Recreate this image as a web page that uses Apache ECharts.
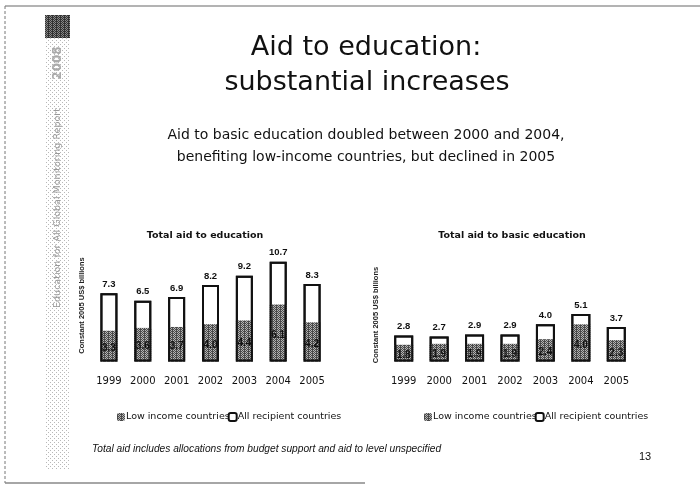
<!DOCTYPE html>
<html>
<head>
<meta charset="utf-8">
<style>
  html, body { margin: 0; padding: 0; background: #fff; }
  #chart { width: 700px; height: 491px; }
</style>
<script src="https://cdn.jsdelivr.net/npm/echarts@6/dist/echarts.min.js"></script>
</head>
<body>
<div id="chart"></div>
<script>
// Years shown on both panels
const years = ['1999', '2000', '2001', '2002', '2003', '2004', '2005'];

// Total aid to education (constant 2005 US$ billions)
const eduAll = [7.3, 6.5, 6.9, 8.2, 9.2, 10.7, 8.3];
const eduLow = [3.3, 3.6, 3.7, 4.0, 4.4, 6.1, 4.2];

// Total aid to basic education (constant 2005 US$ billions)
const basicAll = [2.8, 2.7, 2.9, 2.9, 4.0, 5.1, 3.7];
const basicLow = [1.8, 1.9, 1.9, 1.9, 2.4, 4.0, 2.3];

const seriesNames = ['Low income countries', 'All recipient countries'];

// Dithered grey fill used for the low-income bars
function makePattern(dark, light, size) {
  const c = document.createElement('canvas');
  c.width = size; c.height = size;
  const g = c.getContext('2d');
  g.fillStyle = light; g.fillRect(0, 0, size, size);
  g.fillStyle = dark;
  for (let y = 0; y < size; y++) {
    for (let x = 0; x < size; x++) {
      if ((x + y) % 2 === 0 || (x % 3 === 0 && y % 2 === 1)) g.fillRect(x, y, 1, 1);
    }
  }
  return c;
}
function makeDots(color, step) {
  const c = document.createElement('canvas');
  c.width = step; c.height = step;
  const g = c.getContext('2d');
  g.fillStyle = color;
  g.fillRect(0, 0, 1, 1);
  g.fillRect(Math.floor(step / 2), Math.floor(step / 2), 1, 1);
  return c;
}
const hatch = { image: makePattern('#4a4a4a', '#b4b4b4', 4), repeat: 'repeat' };
const stripDots = { image: makeDots('#b8b8b8', 4), repeat: 'repeat' };
const darkDots = { image: makePattern('#333', '#888', 4), repeat: 'repeat' };

const labelFont = 'Liberation Sans, Arial, sans-serif';
const dejavu = 'DejaVu Sans, Verdana, sans-serif';

function panelSeries(xi, allVals, lowVals, bw) {
  return [
    {
      name: seriesNames[1], type: 'bar', xAxisIndex: xi, yAxisIndex: xi,
      data: allVals, barWidth: bw, barGap: '-100%',
      itemStyle: { color: '#fff', borderColor: '#111', borderWidth: 2 },
      z: 2
    },
    {
      name: seriesNames[0], type: 'bar', xAxisIndex: xi, yAxisIndex: xi,
      data: lowVals, barWidth: bw, barGap: '-100%',
      itemStyle: { color: hatch, borderColor: '#111', borderWidth: 0 },
      label: {
        show: true, position: 'inside', offset: [0, 2],
        fontFamily: labelFont, fontSize: 10, fontWeight: 'bold', color: '#111',
        formatter: p => p.value.toFixed(1)
      },
      z: 3
    },
    {
      name: 'frame', type: 'bar', xAxisIndex: xi, yAxisIndex: xi,
      data: allVals, barWidth: bw, barGap: '-100%', silent: true,
      itemStyle: { color: 'rgba(0,0,0,0)', borderColor: '#111', borderWidth: 2 },
      label: {
        show: true, position: 'top', distance: 4,
        fontFamily: labelFont, fontSize: 9.5, fontWeight: 'bold', color: '#111',
        formatter: p => p.value.toFixed(1)
      },
      z: 4
    }
  ];
}

function xAxisFor(gi) {
  return {
    type: 'category', gridIndex: gi, data: years,
    axisLine: { show: false }, axisTick: { show: false },
    axisLabel: { margin: 15, fontFamily: dejavu, fontSize: 10, color: '#111' }
  };
}
function yAxisFor(gi, max) {
  return {
    type: 'value', gridIndex: gi, min: 0, max: max,
    axisLine: { show: false }, axisTick: { show: false },
    axisLabel: { show: false }, splitLine: { show: false },
    name: 'Constant 2005 US$ billions', nameLocation: 'middle', nameRotate: 90, nameGap: 6,
    nameTextStyle: { fontFamily: labelFont, fontSize: 7.5, fontWeight: 'bold', color: '#222' }
  };
}

const legendBase = {
  data: seriesNames, orient: 'horizontal', itemWidth: 8, itemHeight: 8, itemGap: -2,
  textStyle: { fontFamily: dejavu, fontSize: 9.5, color: '#111', padding: [0, 0, 0, -4] }
};

const chart = echarts.init(document.getElementById('chart'), null, { renderer: 'canvas' });
chart.setOption({
  animation: false,
  backgroundColor: '#fff',
  title: [
    { text: 'Total aid to education', left: 200, top: 226, textAlign: 'center',
      textStyle: { fontFamily: dejavu, fontSize: 9.5, fontWeight: 'bold', color: '#111' } },
    { text: 'Total aid to basic education', left: 507, top: 226, textAlign: 'center',
      textStyle: { fontFamily: dejavu, fontSize: 9.5, fontWeight: 'bold', color: '#111' } }
  ],
  legend: [
    Object.assign({ left: 112, top: 407 }, legendBase),
    Object.assign({ left: 419, top: 407 }, legendBase)
  ],
  grid: [
    { left: 92, width: 237, top: 249.5, height: 112 },
    { left: 386, width: 248, top: 268.5, height: 93 }
  ],
  xAxis: [xAxisFor(0), xAxisFor(1)],
  yAxis: [yAxisFor(0, 12), yAxisFor(1, 10)],
  series: [].concat(panelSeries(0, eduAll, eduLow, 17), panelSeries(1, basicAll, basicLow, 19)),
  graphic: [
    // page frame
    { type: 'line', shape: { x1: 5, y1: 6, x2: 700, y2: 6 }, style: { stroke: '#9a9a9a', lineWidth: 1.5 } },
    { type: 'line', shape: { x1: 5, y1: 6, x2: 5, y2: 483 }, style: { stroke: '#777', lineWidth: 1, lineDash: [3, 2] } },
    { type: 'line', shape: { x1: 5, y1: 483, x2: 365, y2: 483 }, style: { stroke: '#888', lineWidth: 1.5 } },
    // side banner
    { type: 'rect', shape: { x: 45, y: 15, width: 25, height: 455 }, style: { fill: stripDots } },
    { type: 'rect', shape: { x: 45, y: 15, width: 25, height: 23 }, style: { fill: darkDots } },
    { type: 'text', x: 58, y: 63, rotation: Math.PI / 2,
      style: { text: '2008', font: 'bold 12px ' + dejavu, fill: '#aaa', align: 'center', verticalAlign: 'middle' } },
    { type: 'text', x: 58, y: 208, rotation: Math.PI / 2,
      style: { text: 'Education for All Global Monitoring Report', font: '9.5px ' + dejavu, fill: '#999',
               align: 'center', verticalAlign: 'middle' } },
    // headline
    { type: 'text', x: 366, y: 48,
      style: { text: 'Aid to education:', font: '27px ' + dejavu, fill: '#111', align: 'center', verticalAlign: 'middle' } },
    { type: 'text', x: 367, y: 83,
      style: { text: 'substantial increases', font: '27px ' + dejavu, fill: '#111', align: 'center', verticalAlign: 'middle' } },
    { type: 'text', x: 366, y: 135,
      style: { text: 'Aid to basic education doubled between 2000 and 2004,', font: '14px ' + dejavu, fill: '#111',
               align: 'center', verticalAlign: 'middle' } },
    { type: 'text', x: 366, y: 157,
      style: { text: 'benefiting low-income countries, but declined in 2005', font: '14px ' + dejavu, fill: '#111',
               align: 'center', verticalAlign: 'middle' } },
    // footnote and page number
    { type: 'text', x: 92, y: 449,
      style: { text: 'Total aid includes allocations from budget support and aid to level unspecified',
               font: 'italic 10.2px ' + labelFont, fill: '#111', align: 'left', verticalAlign: 'middle' } },
    { type: 'text', x: 645, y: 457,
      style: { text: '13', font: '11px ' + labelFont, fill: '#111', align: 'center', verticalAlign: 'middle' } }
  ]
});
</script>
</body>
</html>
